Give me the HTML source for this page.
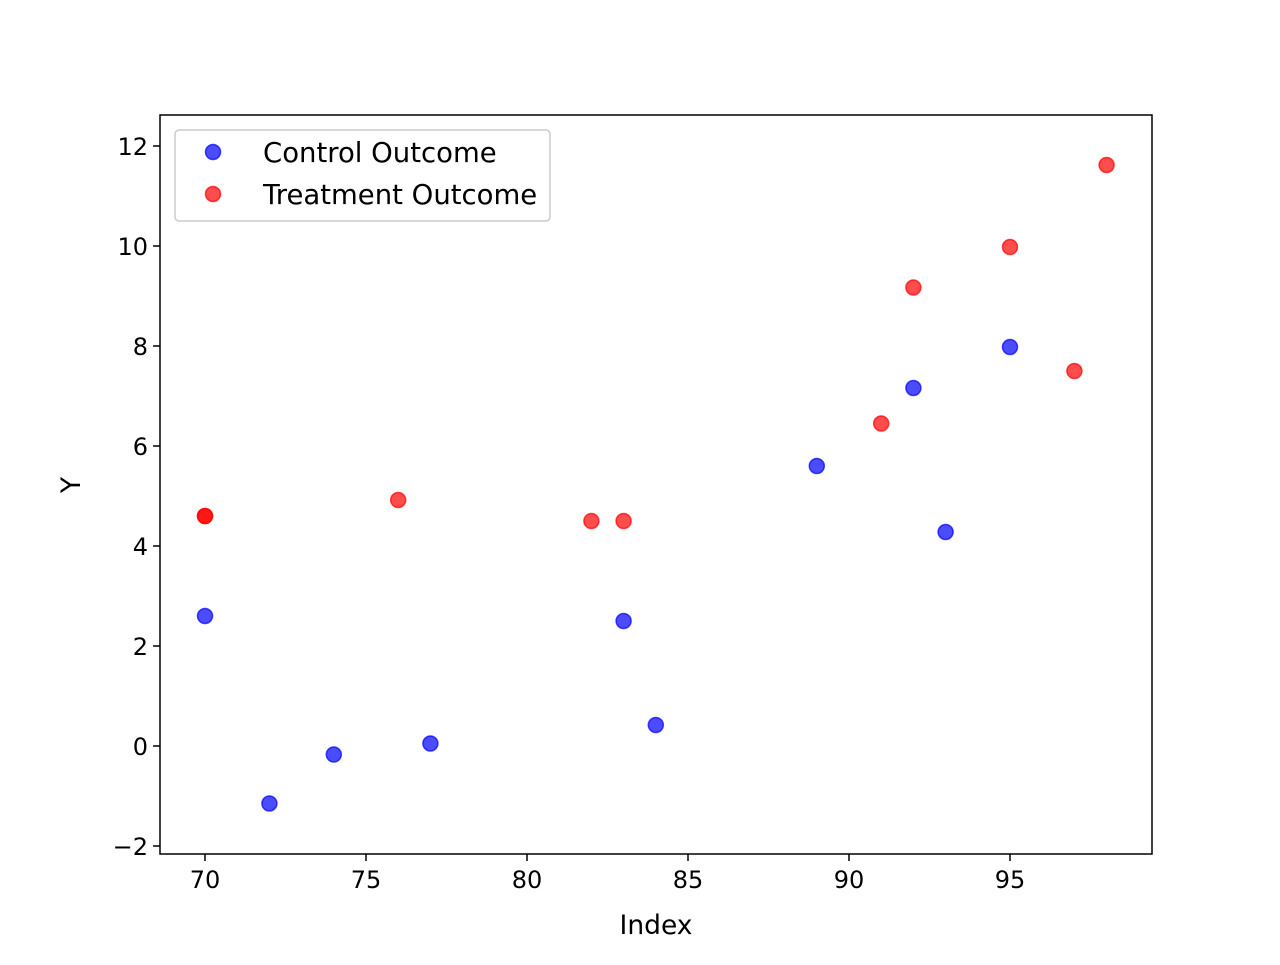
<!DOCTYPE html>
<html><head><meta charset="utf-8"><style>
body{margin:0;background:#fff}
svg text{font-family:"DejaVu Sans","Liberation Sans",sans-serif;fill:#000}
</style></head><body>
<svg id="chart" width="1280" height="960">
<rect x="0" y="0" width="1280" height="960" fill="#fff"/>
<g id="marks"></g>
<g id="axes"></g>
</svg>
<script>
const controlX=[70,72,74,77,83,84,89,92,93,95];
const controlY=[2.6,-1.15,-0.17,0.05,2.5,0.42,5.6,7.16,4.28,7.98];
const treatX=[70,70,76,82,83,91,92,95,97,98];
const treatY=[4.6,4.6,4.92,4.5,4.5,6.45,9.17,9.98,7.5,11.62];
const xTicks=[70,75,80,85,90,95];
const yTicks=[-2,0,2,4,6,8,10,12];
const NS="http://www.w3.org/2000/svg";
const L=160,R=1152,T=115,B=854;
const sx=v=>205+(v-70)*32.2;
const sy=v=>746-v*50;
const marks=document.getElementById('marks'),axes=document.getElementById('axes');
function mk(tag,attrs,parent){const e=document.createElementNS(NS,tag);for(const k in attrs)e.setAttribute(k,attrs[k]);parent.appendChild(e);return e;}
controlX.forEach((x,i)=>{const c=mk('circle',{cx:sx(x),cy:sy(controlY[i]),r:7.5,fill:'#0000ff','fill-opacity':0.7,stroke:'#0000ff','stroke-opacity':0.7,'stroke-width':1.5},marks);

});
treatX.forEach((x,i)=>{const c=mk('circle',{cx:sx(x),cy:sy(treatY[i]),r:7.5,fill:'#ff0000','fill-opacity':0.7,stroke:'#ff0000','stroke-opacity':0.7,'stroke-width':1.5},marks);

});
const frame=mk('rect',{x:L,y:T,width:R-L,height:B-T,fill:'none',stroke:'#000','stroke-width':1.5},axes);


xTicks.forEach(v=>{const x=sx(v);mk('line',{x1:x,x2:x,y1:B,y2:B+7,stroke:'#000','stroke-width':1.5},axes);
const t=mk('text',{x:x,y:B+34,'font-size':24,'text-anchor':'middle'},axes);t.textContent=v;

});
yTicks.forEach(v=>{const y=sy(v);mk('line',{x1:L-7,x2:L,y1:y,y2:y,stroke:'#000','stroke-width':1.5},axes);
const t=mk('text',{x:L-12,y:y+9,'font-size':24,'text-anchor':'end'},axes);t.textContent=v<0?'\u2212'+(-v):v;

});
const xt=mk('text',{x:656,y:934,'font-size':26.5,'text-anchor':'middle'},axes);xt.textContent='Index';


const yt=mk('text',{x:0,y:0,'font-size':26.5,'text-anchor':'middle',transform:'translate(80,485) rotate(-90)'},axes);yt.textContent='Y';


const lg=mk('g',{},axes);


mk('rect',{x:175,y:130,width:375,height:91,rx:4,fill:'#fff','fill-opacity':0.8,stroke:'#ccc','stroke-width':1.5},lg);
[['Control Outcome','#0000ff',152],['Treatment Outcome','#ff0000',194]].forEach(([n,c,y])=>{
mk('circle',{cx:213,cy:y,r:7.5,fill:c,'fill-opacity':0.7,stroke:c,'stroke-opacity':0.7,'stroke-width':1.5},lg);
const t=mk('text',{x:263,y:y+10,'font-size':27.5},lg);t.textContent=n;

});
</script>
</body></html>
